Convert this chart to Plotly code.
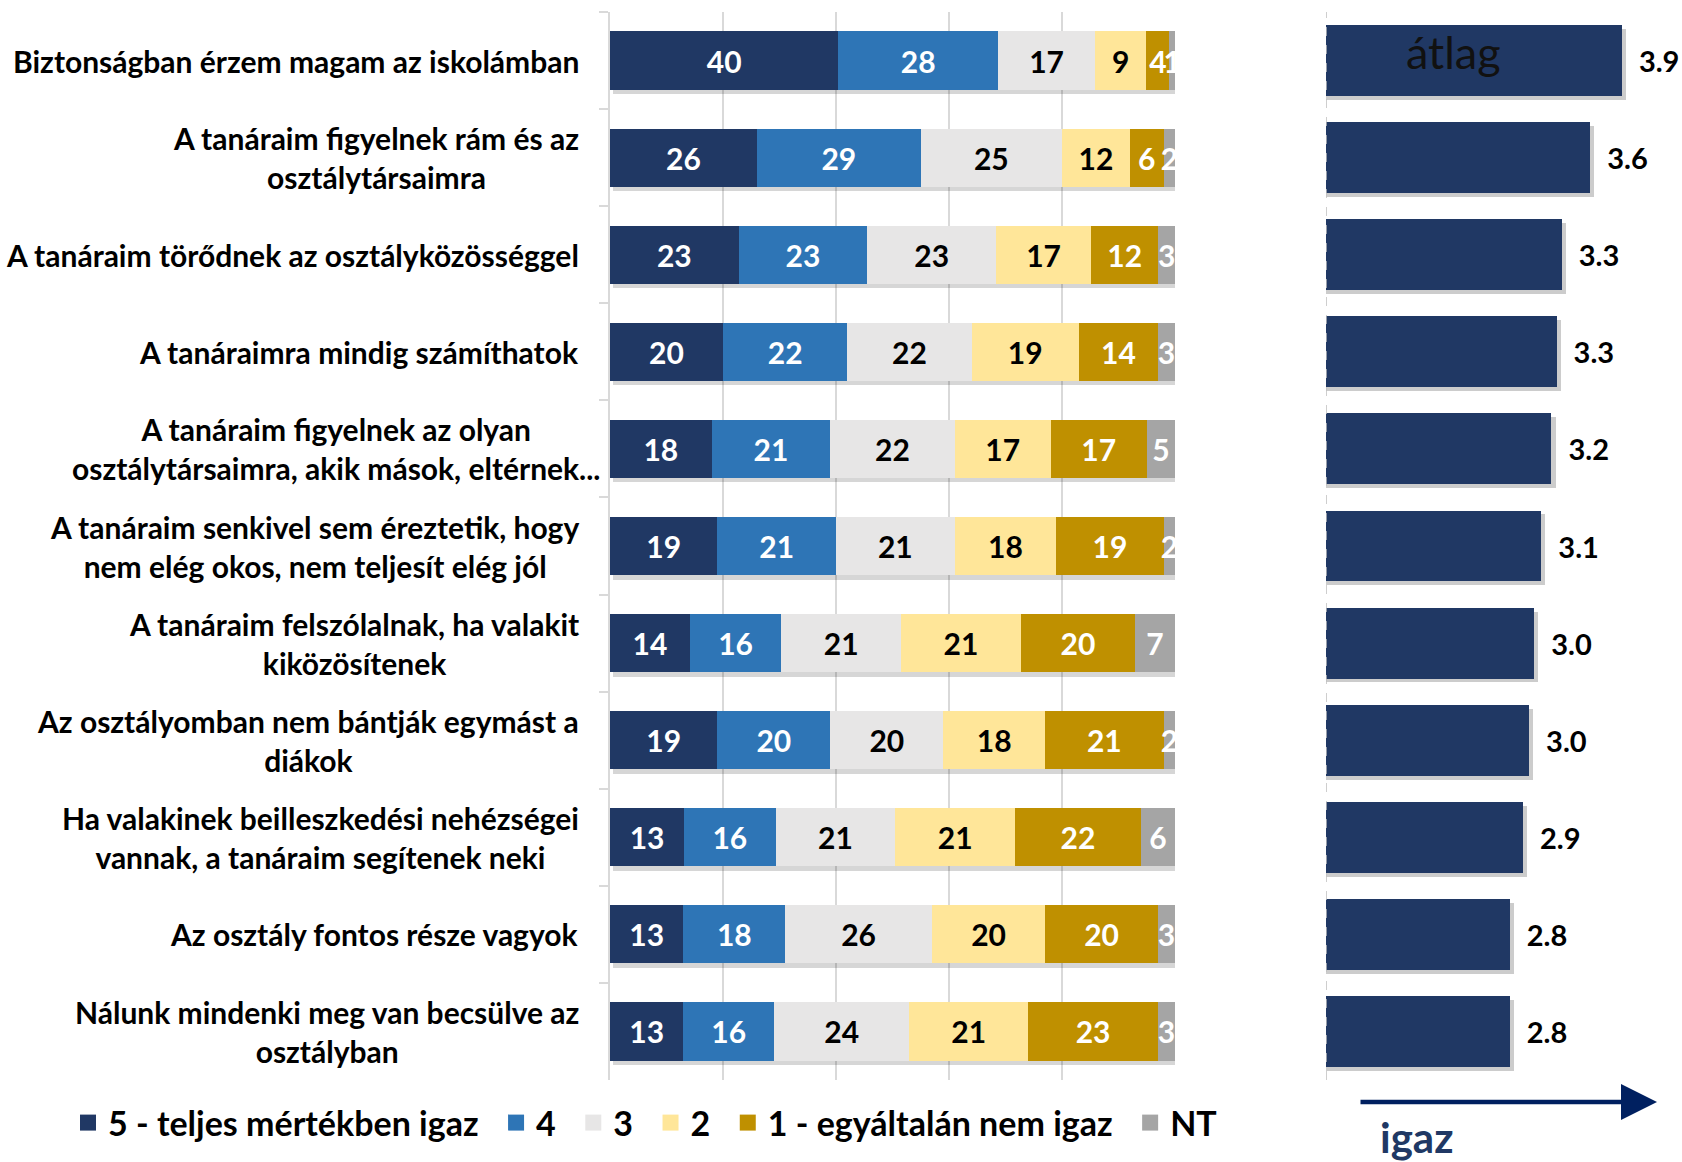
import plotly.graph_objects as go

# ---------------- data ----------------
categories = [
    "Biztonságban érzem magam az iskolámban",
    "A tanáraim figyelnek rám és az<br>osztálytársaimra",
    "A tanáraim törődnek az osztályközösséggel",
    "A tanáraimra mindig számíthatok",
    "A tanáraim figyelnek az olyan<br>osztálytársaimra, akik mások, eltérnek...",
    "A tanáraim senkivel sem éreztetik, hogy<br>nem elég okos, nem teljesít elég jól",
    "A tanáraim felszólalnak, ha valakit<br>kiközösítenek",
    "Az osztályomban nem bántják egymást a<br>diákok",
    "Ha valakinek beilleszkedési nehézségei<br>vannak, a tanáraim segítenek neki",
    "Az osztály fontos része vagyok",
    "Nálunk mindenki meg van becsülve az<br>osztályban",
]

series_names = ["5 - teljes mértékben igaz", "4", "3", "2", "1 - egyáltalán nem igaz", "NT"]
v5 = [40, 26, 23, 20, 18, 19, 14, 19, 13, 13, 13]
v4 = [28, 29, 23, 22, 21, 21, 16, 20, 16, 18, 16]
v3 = [17, 25, 23, 22, 22, 21, 21, 20, 21, 26, 24]
v2 = [9, 12, 17, 19, 17, 18, 21, 18, 21, 20, 21]
v1 = [4, 6, 12, 14, 17, 19, 20, 21, 22, 20, 23]
vnt = [1, 2, 3, 3, 5, 2, 7, 2, 6, 3, 3]
series_values = [v5, v4, v3, v2, v1, vnt]

means = [3.90, 3.59, 3.31, 3.26, 3.21, 3.11, 3.04, 2.99, 2.93, 2.80, 2.80]

# ---------------- styles ----------------
colors = ["#203864", "#2E75B6", "#E7E6E6", "#FFE699", "#BF9000", "#A5A5A5"]
text_colors = ["white", "white", "black", "black", "white", "white"]
FONT = "Lato"
W, H = 1682, 1162
px = lambda v: v / W
py = lambda v: 1 - v / H
GAP = "\u00a0\u2009"

# rows are shown as a 100 % stacked bar (rounded shares do not always add to 100)
row_totals = [sum(r) for r in zip(*series_values)]
shares = [[v / t * 100 for v, t in zip(vals, row_totals)] for vals in series_values]

fig = go.Figure()

# soft shadow of the stacked rows (drawn underneath)
fig.add_trace(go.Bar(
    y=categories, x=[100] * len(categories), orientation="h", base=0.6,
    width=0.6, offset=-0.3 + 0.045,
    marker=dict(color="rgba(0,0,0,0.16)", line=dict(width=0)),
    xaxis="x", yaxis="y", showlegend=False, hoverinfo="skip",
))

for name, vals, shr, col, tcol in zip(series_names, series_values, shares, colors, text_colors):
    fig.add_trace(go.Bar(
        y=categories, x=shr, orientation="h", name=name,
        marker=dict(color=col, line=dict(width=0)),
        width=0.6,
        text=vals, texttemplate="%{text}", textposition="inside",
        insidetextanchor="middle", textangle=0, constraintext="none",
        cliponaxis=False,
        textfont=dict(family=FONT, size=30, color=tcol, weight="bold"),
        xaxis="x4", yaxis="y", showlegend=False, legendgroup=name,
        hoverinfo="skip",
    ))
    # legend entry with square marker
    fig.add_trace(go.Scatter(
        x=[None], y=[None], mode="markers", name=name + GAP, legendgroup=name,
        marker=dict(symbol="square", size=16, color=col),
        xaxis="x", yaxis="y", showlegend=True,
    ))

# shadow of average bars
fig.add_trace(go.Bar(
    y=categories, x=means, orientation="h", base=0.04,
    width=0.73, offset=-0.365 + 0.04,
    marker=dict(color="rgba(0,0,0,0.2)", line=dict(width=0)),
    xaxis="x2", yaxis="y", showlegend=False, hoverinfo="skip",
))
# average bars
fig.add_trace(go.Bar(
    y=categories, x=means, orientation="h",
    width=0.73,
    marker=dict(color="#203864", line=dict(width=0)),
    text=means, texttemplate="  %{x:.1f}", textposition="outside",
    constraintext="none", cliponaxis=False,
    textfont=dict(family=FONT, size=29, color="black", weight="bold"),
    xaxis="x3", yaxis="y", showlegend=False, hoverinfo="skip",
))

y_dom = [py(1080), py(12)]
x1_dom = [px(610), px(1175)]
x2_dom = [px(1326), px(1632)]

fig.update_layout(
    width=W, height=H,
    margin=dict(l=0, r=0, t=0, b=0, autoexpand=False),
    paper_bgcolor="white", plot_bgcolor="white",
    barmode="stack",
    uniformtext=dict(minsize=29, mode="show"),
    font=dict(family=FONT, size=30, color="black"),
    xaxis=dict(domain=x1_dom, range=[0, 100], dtick=20,
               showgrid=True, gridcolor="#D9D9D9", gridwidth=2,
               showticklabels=False, zeroline=False, ticks="", anchor="y"),
    xaxis4=dict(domain=x1_dom, range=[0, 100], overlaying="x", showgrid=False,
                showticklabels=False, zeroline=False, ticks="", anchor="y"),
    xaxis2=dict(domain=x2_dom, range=[1, 4], showgrid=False,
                showticklabels=False, zeroline=False, ticks="", anchor="y"),
    xaxis3=dict(domain=x2_dom, range=[1, 4], overlaying="x2", showgrid=False,
                showticklabels=False, zeroline=False, ticks="", anchor="y"),
    yaxis=dict(domain=y_dom, categoryorder="array", categoryarray=categories,
               range=[10.5, -0.5], showticklabels=False, showgrid=False,
               showline=True, linecolor="#D9D9D9", linewidth=2,
               ticks="outside", tickson="boundaries", ticklen=9,
               tickcolor="#D9D9D9", tickwidth=2, zeroline=False, anchor="x"),
    legend=dict(orientation="h", x=px(68), xanchor="left", y=py(1123), yanchor="middle",
                font=dict(family=FONT, size=34, color="black", weight="bold"),
                itemsizing="trace", tracegroupgap=0, bgcolor="rgba(0,0,0,0)"),
    showlegend=True,
)

# category labels (centered multi-line, right anchored next to the axis)
label_right = [581] * len(categories)
label_right[4] = 602  # the long label overhangs toward the axis
for cat, xr in zip(categories, label_right):
    fig.add_annotation(
        x=px(xr), xref="paper", xanchor="right",
        y=cat, yref="y", yanchor="middle",
        text=cat, showarrow=False, align="center",
        font=dict(family=FONT, size=30, color="black", weight="bold"),
    )

# dashed axis line of the average chart
fig.add_shape(type="line", xref="x2", yref="paper", x0=1, x1=1,
              y0=y_dom[0], y1=y_dom[1],
              line=dict(color="#BFBFBF", width=1.5, dash="dash"))

# 'átlag' title inside the first bar
fig.add_annotation(x=px(1453), y=py(52), xref="paper", yref="paper",
                   text="átlag", showarrow=False, xanchor="center", yanchor="middle",
                   font=dict(family=FONT, size=45, color="#111111"))

# arrow and 'igaz'
fig.add_annotation(x=px(1657), y=py(1102), xref="paper", yref="paper",
                   ax=-298, ay=0, axref="pixel", ayref="pixel",
                   showarrow=True, arrowhead=2, arrowwidth=4.5, arrowsize=1.6,
                   arrowcolor="#002060", text="")
fig.add_annotation(x=px(1416), y=py(1137), xref="paper", yref="paper",
                   text="igaz", showarrow=False, xanchor="center", yanchor="middle",
                   font=dict(family=FONT, size=42, color="#203864", weight="bold"))

fig.write_html("out.html",
               config={"displayModeBar": False},
               post_script="document.body.style.margin='0px';document.body.style.overflow='hidden';")
